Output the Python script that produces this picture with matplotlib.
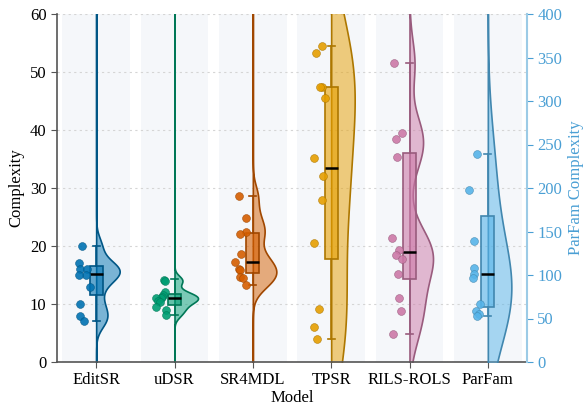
import numpy as np
import matplotlib.pyplot as plt
from matplotlib.colors import to_rgb, to_rgba

plt.rcParams['font.family'] = ['Liberation Serif', 'DejaVu Serif']
plt.rcParams['font.size'] = 12

models = ['EditSR', 'uDSR', 'SR4MDL', 'TPSR', 'RILS-ROLS', 'ParFam']
colors = ['#0072B2', '#009E73', '#D55E00', '#E69F00', '#CC79A7', '#56B4E9']

# complexity of the recovered expressions, one list per model
editsr = [20, 17, 16, 16, 15, 15, 13, 10, 8, 7]
udsr = [14.2, 13.9, 12.0, 11.6, 11.2, 11.0, 11.0, 10.5, 10.4, 9.5, 9.0, 8.1]
sr4mdl = [28.6, 24.9, 22.5, 22.0, 18.6, 17.3, 16.0, 15.9, 14.7, 14.4, 13.3]
tpsr = [54.5, 53.3, 47.4, 47.4, 45.6, 35.1, 32.1, 27.9, 20.6, 9.1, 6.0, 3.9]
rils = [51.5, 39.5, 38.4, 35.3, 21.4, 19.3, 18.4, 17.8, 15.2, 11.1, 8.8, 4.9]
parfam = [239, 198, 139, 108, 101, 96, 67, 59, 55, 53]   # right axis
data = [editsr, udsr, sr4mdl, tpsr, rils, parfam]

# box statistics
q1 = [11.5, 9.9, 15.3, 17.8, 14.3, 63.6]
med = [15.1, 11.1, 17.3, 33.5, 18.9, 101]
q3 = [16.6, 11.8, 22.2, 47.4, 36.0, 168]
whislo = [7.0, 8.1, 13.3, 3.9, 4.9, 53]
whishi = [20.0, 14.3, 28.6, 54.5, 51.5, 239]

# kde bandwidth per model (data units)
bw = [1.6, 0.8, 1.9, 10.0, 4.0, 55]


def darker(c, f=0.75):
    r, g, b = to_rgb(c)
    return (r * f, g * f, b * f)


fig = plt.figure(figsize=(5.87, 4.07), dpi=100)
ax = fig.add_axes([57 / 587, 45 / 407, 470 / 587, 348 / 407])
ax2 = ax.twinx()

rng = np.random.default_rng(7)

for i, (vals, c) in enumerate(zip(data, colors)):
    a = ax2 if i == 5 else ax
    vals = np.array(vals, dtype=float)
    dk = darker(c)
    ax.axvspan(i - 0.43, i + 0.43, color='#f5f7fa', zorder=0, lw=0)

    # half violin on the right
    if i == 5:
        grid = np.linspace(-30, 430, 600)
    else:
        grid = np.linspace(-5, 65, 600)
    dens = np.exp(-0.5 * ((grid[:, None] - vals[None, :]) / bw[i]) ** 2).sum(1)
    w = dens / dens.max() * 0.3
    a.fill_betweenx(grid, i, i + w, facecolor=to_rgba(c, 0.5),
                    edgecolor=dk, lw=1.2, zorder=2)

    # box
    st = [dict(q1=q1[i], med=med[i], q3=q3[i], whislo=whislo[i], whishi=whishi[i])]
    a.bxp(st, positions=[i], widths=0.17, patch_artist=True, showfliers=False,
          capwidths=0.09, manage_ticks=False,
          boxprops=dict(facecolor=to_rgba(c, 0.6), edgecolor=dk, lw=1.2),
          medianprops=dict(color='black', lw=1.8),
          whiskerprops=dict(color=dk, lw=1.2),
          capprops=dict(color=dk, lw=1.2), zorder=3)

    # jittered points on the left
    xs = i - rng.uniform(0.08, 0.24, len(vals))
    a.scatter(xs, vals, s=32, color=c, alpha=0.9, edgecolor=dk, lw=0.4, zorder=4)

ax.set_xlim(-0.5, 5.5)
ax.set_ylim(0, 60)
ax2.set_ylim(0, 400)
ax.set_xticks(range(len(models)))
ax.set_xticklabels(models)
ax.set_yticks(range(0, 61, 10))
ax2.set_yticks(range(0, 401, 50))
ax.yaxis.grid(True, linestyle=(0, (2, 3)), color='#d5d5d5', lw=0.8, zorder=1)
ax.set_axisbelow(True)

ax.set_xlabel('Model', labelpad=1)
ax.set_ylabel('Complexity')
rc = '#4a9fd4'
ax2.set_ylabel('ParFam Complexity', color=rc)
ax2.tick_params(axis='y', colors=rc, length=4)
ax2.spines['right'].set_color('#9ccbe6')
ax2.spines['right'].set_linewidth(1.5)

for s in ['top', 'right']:
    ax.spines[s].set_visible(False)
for s in ['top', 'left', 'bottom']:
    ax2.spines[s].set_visible(False)
for s in ['left', 'bottom']:
    ax.spines[s].set_color('#555555')
    ax.spines[s].set_linewidth(1.2)
ax.tick_params(axis='both', length=4, color='#555555')

fig.savefig('out.png', dpi=100)
